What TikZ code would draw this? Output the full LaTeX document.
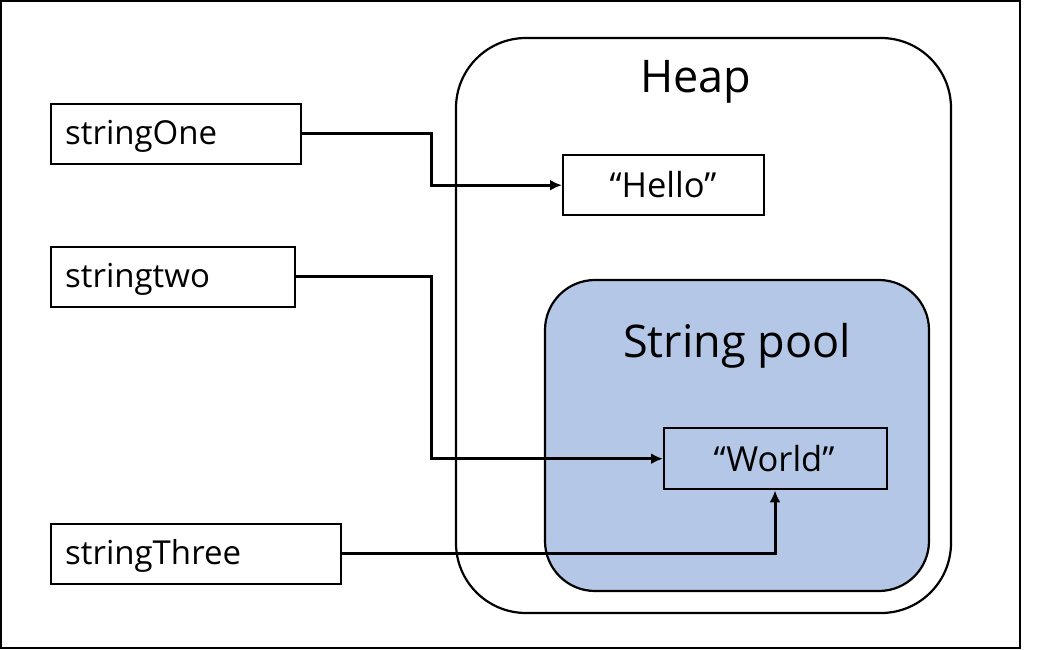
\documentclass[tikz,border=0pt]{standalone}
\usepackage{fontspec}
\setmainfont{Open Sans}
\usetikzlibrary{arrows.meta}
\definecolor{poolblue}{HTML}{B4C7E7}
\begin{document}
\begin{tikzpicture}[x=1pt,y=-1pt,
  frame/.style={draw=black,line width=2.6pt},
  var/.style={draw=black,line width=2.4pt,fill=white,anchor=north west,inner sep=0pt},
  val/.style={draw=black,line width=2.4pt,anchor=north west,inner sep=0pt},
  vtext/.style={font=\fontsize{33}{38}\selectfont,anchor=west,inner sep=0pt},
  stext/.style={font=\fontsize{34.5}{40}\selectfont,inner sep=0pt},
  conn/.style={line width=3pt,-{Latex[length=12pt,width=11pt]}},
  title/.style={font=\fontsize{45}{52}\selectfont,inner sep=0pt}
]
\useasboundingbox (0,0) rectangle (1041,650);
\draw[frame] (1,1) rectangle (1020,648);
% heap
\draw[line width=2.2pt,rounded corners=70pt] (456,38) rectangle (951,613);
\node[title] (heap) at (696,82) {Heap};
% pool
\draw[line width=2.2pt,fill=poolblue,rounded corners=50pt] (545,280) rectangle (929,591);
\node[title] (pool) at (737,346) {String pool};
% variables
\node[var,minimum width=250pt,minimum height=60pt] (one) at (50,103) {};
\node[vtext] (onet) at (65,136) {stringOne};
\node[var,minimum width=244pt,minimum height=60pt] (two) at (50,246) {};
\node[vtext] (twot) at (65,279) {stringtwo};
\node[var,minimum width=290pt,minimum height=60pt] (three) at (50,523) {};
\node[vtext] (threet) at (65,556) {stringThree};
% values
\node[val,fill=white,minimum width=201pt,minimum height=60pt] (hello) at (562,154) {};
\node[stext] (hellot) at (663,185) {“Hello”};
\node[val,minimum width=223pt,minimum height=61pt] (world) at (663,427) {};
\node[stext] (worldt) at (774,459) {“World”};
% connectors
\coordinate (b1) at (431,134);
\draw[conn] (one.east |- b1) -- (b1) |- (hello.west);
\coordinate (b2) at (431,276);
\draw[conn] (two.east |- b2) -- (b2) |- (world.west);
\coordinate (b3) at (775,553);
\draw[conn] (three.east |- b3) -- (b3) -- (b3 |- world.south);
\end{tikzpicture}
\end{document}
